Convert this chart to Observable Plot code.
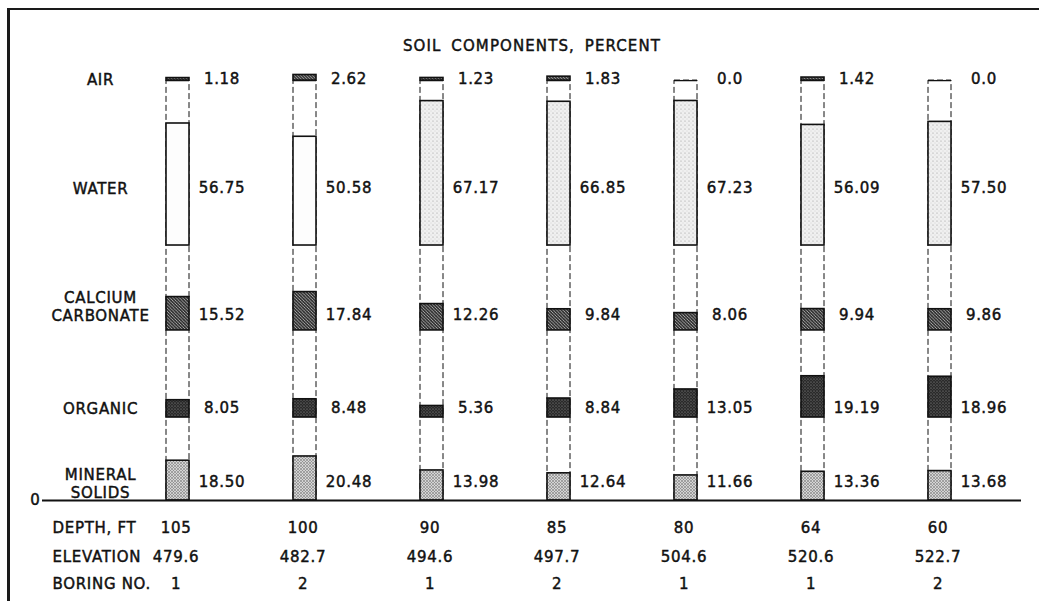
<!DOCTYPE html>
<html><head><meta charset="utf-8">
<script src="https://cdn.jsdelivr.net/npm/d3@7"></script>
<script src="https://cdn.jsdelivr.net/npm/@observablehq/plot@0.6"></script>
<style>
html,body{margin:0;padding:0;background:#fff;}
#wrap{position:relative;width:1039px;height:601px;overflow:hidden;}
#chart svg{display:block;}
#border{position:absolute;left:7px;top:8px;width:1100px;height:700px;border-left:3px solid #1a1a1a;border-top:2px solid #1a1a1a;pointer-events:none;}
</style></head><body>
<svg width="0" height="0" style="position:absolute">
  <defs>
    <pattern id="pAir" width="3" height="3" patternUnits="userSpaceOnUse">
      <rect width="3" height="3" fill="#444"/>
      <path d="M0,0 L3,3" stroke="#bbb" stroke-width="0.6"/>
    </pattern>
    <pattern id="pWater" width="4" height="4" patternUnits="userSpaceOnUse">
      <rect width="4" height="4" fill="#f0f0f0"/>
      <circle cx="1" cy="1" r="0.6" fill="#999"/>
      <circle cx="3" cy="3" r="0.45" fill="#b5b5b5"/>
    </pattern>
    <pattern id="pCa" width="3.2" height="3.2" patternUnits="userSpaceOnUse">
      <rect width="3.2" height="3.2" fill="#333"/>
      <path d="M0,0 L3.2,3.2 M-1,2.2 L1,4.2 M2.2,-1 L4.2,1" stroke="#c0c0c0" stroke-width="0.8"/>
    </pattern>
    <pattern id="pOrg" width="3" height="3" patternUnits="userSpaceOnUse">
      <rect width="3" height="3" fill="#2a2a2a"/>
      <circle cx="1" cy="1" r="0.6" fill="#9a9a9a"/>
      <circle cx="2.5" cy="2.4" r="0.35" fill="#777"/>
    </pattern>
    <pattern id="pMin" width="3" height="3" patternUnits="userSpaceOnUse">
      <rect width="3" height="3" fill="#d4d4d4"/>
      <circle cx="1" cy="1" r="0.7" fill="#444"/>
      <circle cx="2.5" cy="2.5" r="0.5" fill="#777"/>
    </pattern>
  </defs>
</svg>
<div id="wrap"><div id="chart"></div><div id="border"></div></div>
<script>
// ---------- data ----------
const title = "SOIL COMPONENTS, PERCENT";
const columns = [0, 1, 2, 3, 4, 5, 6];
const componentNames = ["AIR", "WATER", "CALCIUM\nCARBONATE", "ORGANIC", "MINERAL\nSOLIDS"];
const air      = [1.18, 2.62, 1.23, 1.83, 0.0, 1.42, 0.0];
const water    = [56.75, 50.58, 67.17, 66.85, 67.23, 56.09, 57.50];
const calcium  = [15.52, 17.84, 12.26, 9.84, 8.06, 9.94, 9.86];
const organic  = [8.05, 8.48, 5.36, 8.84, 13.05, 19.19, 18.96];
const mineral  = [18.50, 20.48, 13.98, 12.64, 11.66, 13.36, 13.68];
const footLabels = ["DEPTH, FT", "ELEVATION", "BORING NO."];
const depthFt   = ["105", "100", "90", "85", "80", "64", "60"];
const elevation = ["479.6", "482.7", "494.6", "497.7", "504.6", "520.6", "522.7"];
const boringNo  = ["1", "2", "1", "2", "1", "1", "2"];

// ---------- layout / style (y in scale units) ----------
const bandBase = [195.3, 118.6, 79.1, 38.6, 0];
const labelY   = [195.8, 145.1, 90.2, 43.0, 7.9];
const valueY   = [195.8, 145.1, 86.0, 43.0, 8.4];
const footY    = [-12.8, -26.3, -39.1];
const fills    = ["url(#pAir)", "url(#pWater)", "url(#pCa)", "url(#pOrg)", "url(#pMin)"];
const waterPlain = [true, true, false, false, false, false, false];

const series = [air, water, calcium, organic, mineral];
const rows = [];
series.forEach((vals, k) => vals.forEach((v, i) => rows.push({col: i, comp: k, value: v, base: bandBase[k]})));
const fmt = v => v === 0 ? "0.0" : v.toFixed(2);
const foot = [depthFt, elevation, boringNo];
const footRows = [];
foot.forEach((vals, r) => vals.forEach((t, i) => footRows.push({col: i, row: r, text: t})));

const fs = 15;
const chart = Plot.plot({
  width: 1039,
  height: 601,
  marginLeft: 42,
  marginRight: 18,
  marginTop: 40,
  marginBottom: 0,
  style: {fontFamily: "DejaVu Sans", fontSize: "15px", color: "#111", background: "white"},
  x: {type: "band", domain: columns, range: [163, 954], paddingInner: 0.8203, paddingOuter: 0, axis: null},
  y: {domain: [0, 200], range: [500, 70], axis: null},
  color: {type: "identity"},
  marks: [
    Plot.rectY(columns, {x: d => d, y1: 0, y2: bandBase[0], fill: "none", stroke: "#111", strokeWidth: 1, strokeDasharray: "6,3"}),
    Plot.tickY(columns, {x: d => d, y: bandBase[0], stroke: "#111", strokeWidth: 1.3}),
    Plot.rectY(rows.filter(d => d.value > 0), {
      x: "col", y1: "base", y2: d => d.base + d.value,
      fill: d => (d.comp === 1 && waterPlain[d.col]) ? "#fdfdfd" : fills[d.comp],
      stroke: "#111", strokeWidth: 1.6
    }),
    Plot.ruleY([0], {stroke: "#111", strokeWidth: 2}),
    Plot.axisY({ticks: [0], tickSize: 0, tickPadding: 2, label: null, fontSize: fs}),
    Plot.text([title], {frameAnchor: "top", text: d => d, fontSize: fs}),
    Plot.text(componentNames, {frameAnchor: "left", y: (d, i) => labelY[i], text: d => d, dx: 58, textAnchor: "middle", lineHeight: 1.15, fontSize: fs}),
    Plot.text(rows, {x: "col", y: d => valueY[d.comp], text: d => fmt(d.value), dx: 44, textAnchor: "middle", fontSize: fs}),
    Plot.text(footLabels, {frameAnchor: "left", y: (d, i) => footY[i], text: d => d, dx: 10, textAnchor: "start", fontSize: fs}),
    Plot.text(footRows, {x: "col", y: d => footY[d.row], text: "text", dx: -2, fontSize: fs})
  ]
});
document.getElementById("chart").appendChild(chart);
const svg = d3.select(chart);
svg.selectAll("text").style("letter-spacing", "0.7px").style("stroke", "#111").style("stroke-width", "0.45px");
svg.selectAll("text").filter(function() { return this.textContent === title; })
  .style("letter-spacing", "1.1px").style("word-spacing", "4px")
  .style("stroke", "#111").style("stroke-width", "0.45px");
</script>
</body></html>
